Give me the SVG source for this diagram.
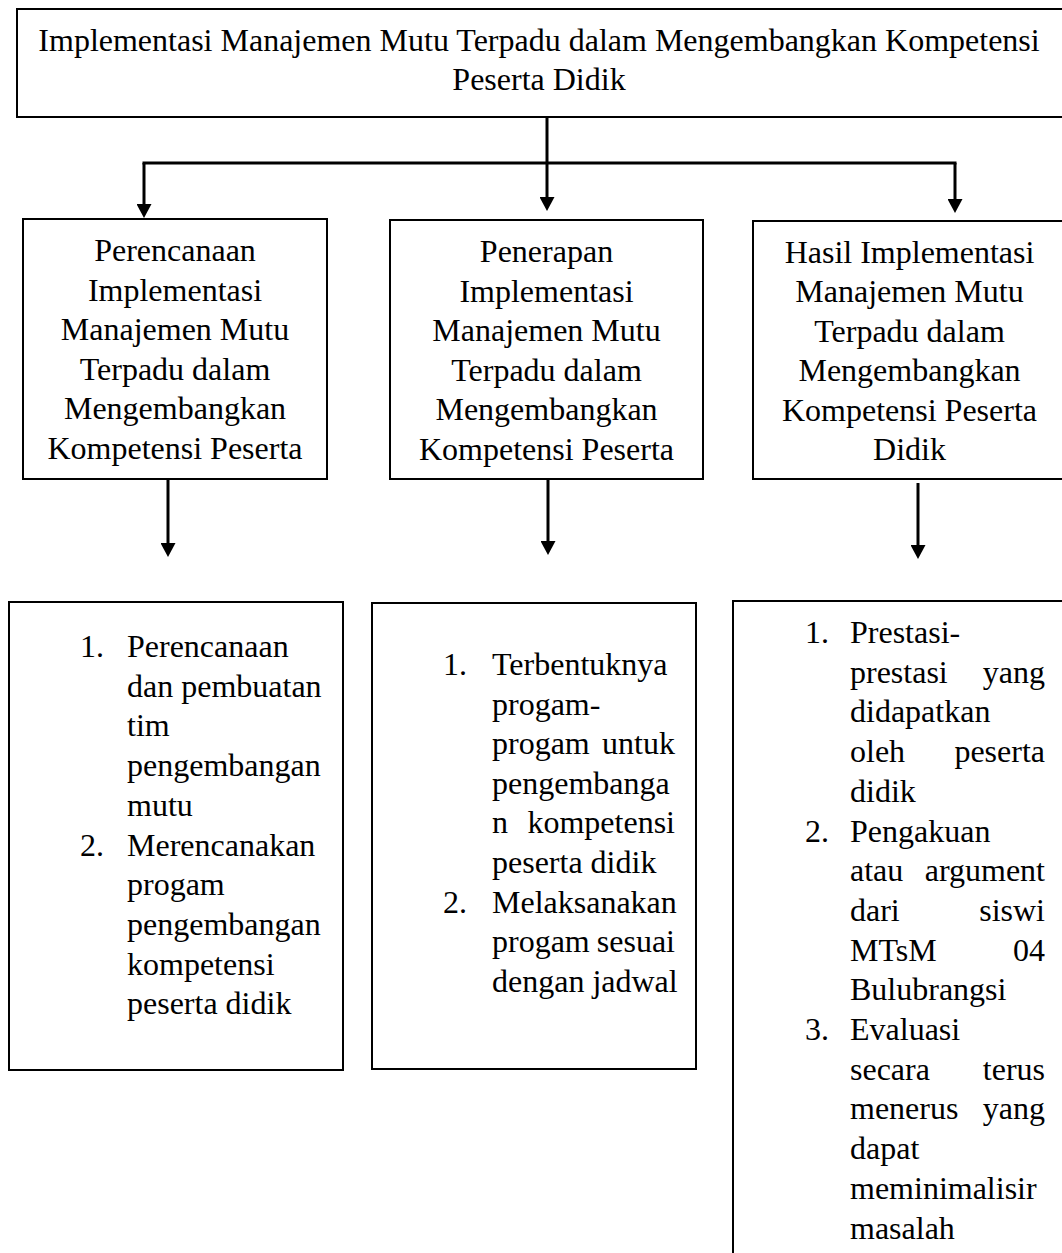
<svg xmlns="http://www.w3.org/2000/svg" width="1062" height="1253" viewBox="0 0 1062 1253">
  <style>
    .box { fill: #ffffff; stroke: #000000; stroke-width: 2; }
    .t { font-family: "Liberation Serif", "Times New Roman", serif; font-size: 32px; fill: #000000; }
    .c { text-anchor: middle; }
    .e { text-anchor: end; }
    .conn { fill: none; stroke: #000000; stroke-width: 3; }
  </style>
  <defs>
    <marker id="arrow" markerUnits="userSpaceOnUse" markerWidth="15" markerHeight="15" refX="2" refY="7.5" orient="auto">
      <path d="M0,0 L14,7.5 L0,15 z" fill="#000000"/>
    </marker>
  </defs>
  <rect width="1062" height="1253" fill="#ffffff"/>

  <g id="connectors">
    <path class="conn" d="M547,118 V199" marker-end="url(#arrow)"/>
    <path class="conn" d="M142.5,163 H956.5"/>
    <path class="conn" d="M144,163 V206" marker-end="url(#arrow)"/>
    <path class="conn" d="M955,163 V201" marker-end="url(#arrow)"/>
    <path class="conn" d="M168,480 V545" marker-end="url(#arrow)"/>
    <path class="conn" d="M548,480 V543" marker-end="url(#arrow)"/>
    <path class="conn" d="M918,483 V547" marker-end="url(#arrow)"/>
  </g>

  <g id="node-title">
    <rect class="box" x="17" y="9" width="1060" height="108"/>
    <text class="t c" x="539" y="51">Implementasi Manajemen Mutu Terpadu dalam Mengembangkan Kompetensi</text>
    <text class="t c" x="539" y="90">Peserta Didik</text>
  </g>

  <g id="node-perencanaan">
    <rect class="box" x="23" y="219" width="304" height="260"/>
    <text class="t c" x="175" y="261">Perencanaan</text>
    <text class="t c" x="175" y="300.5">Implementasi</text>
    <text class="t c" x="175" y="340">Manajemen Mutu</text>
    <text class="t c" x="175" y="379.5">Terpadu dalam</text>
    <text class="t c" x="175" y="419">Mengembangkan</text>
    <text class="t c" x="175" y="458.5">Kompetensi Peserta</text>
  </g>

  <g id="node-penerapan">
    <rect class="box" x="390" y="220" width="313" height="259"/>
    <text class="t c" x="546.5" y="262">Penerapan</text>
    <text class="t c" x="546.5" y="301.6">Implementasi</text>
    <text class="t c" x="546.5" y="341.2">Manajemen Mutu</text>
    <text class="t c" x="546.5" y="380.8">Terpadu dalam</text>
    <text class="t c" x="546.5" y="420.4">Mengembangkan</text>
    <text class="t c" x="546.5" y="460">Kompetensi Peserta</text>
  </g>

  <g id="node-hasil">
    <rect class="box" x="753" y="221" width="320" height="258"/>
    <text class="t c" x="909.5" y="263">Hasil Implementasi</text>
    <text class="t c" x="909.5" y="302.4">Manajemen Mutu</text>
    <text class="t c" x="909.5" y="341.8">Terpadu dalam</text>
    <text class="t c" x="909.5" y="381.2">Mengembangkan</text>
    <text class="t c" x="909.5" y="420.6">Kompetensi Peserta</text>
    <text class="t c" x="909.5" y="460">Didik</text>
  </g>

  <g id="node-list-perencanaan">
    <rect class="box" x="9" y="602" width="334" height="468"/>
    <text class="t" x="80" y="657">1.</text>
    <text class="t" x="127" y="657">Perencanaan</text>
    <text class="t" x="127" y="696.7">dan pembuatan</text>
    <text class="t" x="127" y="736.4">tim</text>
    <text class="t" x="127" y="776.1">pengembangan</text>
    <text class="t" x="127" y="815.8">mutu</text>
    <text class="t" x="80" y="855.5">2.</text>
    <text class="t" x="127" y="855.5">Merencanakan</text>
    <text class="t" x="127" y="895.2">progam</text>
    <text class="t" x="127" y="934.9">pengembangan</text>
    <text class="t" x="127" y="974.6">kompetensi</text>
    <text class="t" x="127" y="1014.3">peserta didik</text>
  </g>

  <g id="node-list-penerapan">
    <rect class="box" x="372" y="603" width="324" height="466"/>
    <text class="t" x="443" y="675">1.</text>
    <text class="t" x="492" y="675">Terbentuknya</text>
    <text class="t" x="492" y="714.6">progam-</text>
    <text class="t" x="492" y="754.2">progam</text>
    <text class="t e" x="675" y="754.2">untuk</text>
    <text class="t" x="492" y="793.8">pengembanga</text>
    <text class="t" x="492" y="833.4">n</text>
    <text class="t e" x="675" y="833.4">kompetensi</text>
    <text class="t" x="492" y="873">peserta didik</text>
    <text class="t" x="443" y="912.6">2.</text>
    <text class="t" x="492" y="912.6">Melaksanakan</text>
    <text class="t" x="492" y="952.2">progam</text>
    <text class="t e" x="675" y="952.2">sesuai</text>
    <text class="t" x="492" y="991.8">dengan jadwal</text>
  </g>

  <g id="node-list-hasil">
    <rect class="box" x="733" y="601" width="340" height="670"/>
    <text class="t" x="805" y="643">1.</text>
    <text class="t" x="850" y="643">Prestasi-</text>
    <text class="t" x="850" y="682.7">prestasi</text>
    <text class="t e" x="1045" y="682.7">yang</text>
    <text class="t" x="850" y="722.4">didapatkan</text>
    <text class="t" x="850" y="762.1">oleh</text>
    <text class="t e" x="1045" y="762.1">peserta</text>
    <text class="t" x="850" y="801.8">didik</text>
    <text class="t" x="805" y="841.5">2.</text>
    <text class="t" x="850" y="841.5">Pengakuan</text>
    <text class="t" x="850" y="881.2">atau</text>
    <text class="t e" x="1045" y="881.2">argument</text>
    <text class="t" x="850" y="920.9">dari</text>
    <text class="t e" x="1045" y="920.9">siswi</text>
    <text class="t" x="850" y="960.6">MTsM</text>
    <text class="t e" x="1045" y="960.6">04</text>
    <text class="t" x="850" y="1000.3">Bulubrangsi</text>
    <text class="t" x="805" y="1040">3.</text>
    <text class="t" x="850" y="1040">Evaluasi</text>
    <text class="t" x="850" y="1079.7">secara</text>
    <text class="t e" x="1045" y="1079.7">terus</text>
    <text class="t" x="850" y="1119.4">menerus</text>
    <text class="t e" x="1045" y="1119.4">yang</text>
    <text class="t" x="850" y="1159.1">dapat</text>
    <text class="t" x="850" y="1198.8">meminimalisir</text>
    <text class="t" x="850" y="1238.5">masalah</text>
  </g>
</svg>
